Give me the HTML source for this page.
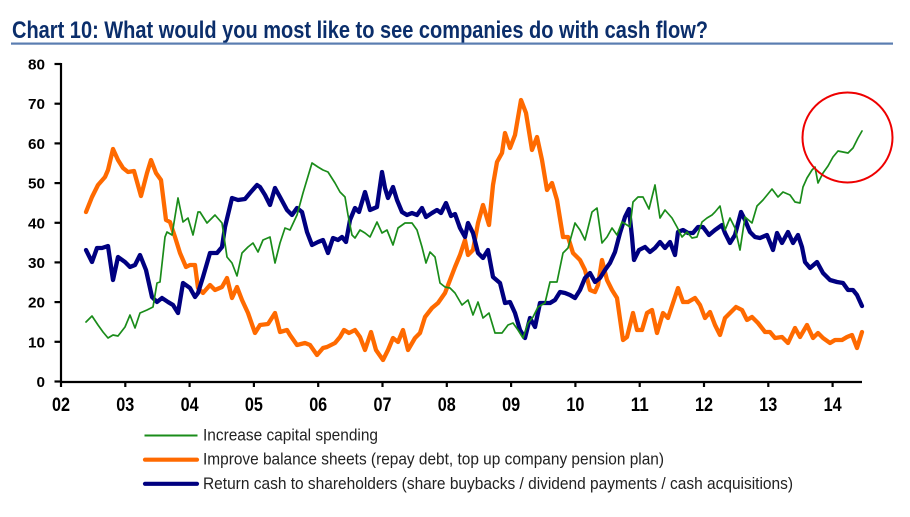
<!DOCTYPE html>
<html>
<head>
<meta charset="utf-8">
<style>
  html, body { margin:0; padding:0; background:#fff; }
  svg { display:block; }
  text { font-family: "Liberation Sans", Arial, sans-serif; }
</style>
</head>
<body>
<svg width="910" height="517" viewBox="0 0 910 517" xmlns="http://www.w3.org/2000/svg">
  <rect width="910" height="517" fill="#fff"/>
  <!-- Title -->
  <text x="12" y="38" font-size="24" font-weight="bold" fill="#0b2e6b" textLength="696" lengthAdjust="spacingAndGlyphs">Chart 10: What would you most like to see companies do with cash flow?</text>
  <rect x="11" y="42.5" width="882" height="2.2" fill="#5a7db1"/>

  <!-- Axes -->
  <g stroke="#000" stroke-width="2.2" fill="none">
    <line x1="61" y1="63" x2="61" y2="382.5"/>
    <line x1="60" y1="382" x2="862" y2="382"/>
    <line x1="54.5" y1="64" x2="61" y2="64"/>
    <line x1="54.5" y1="103.7" x2="61" y2="103.7"/>
    <line x1="54.5" y1="143.4" x2="61" y2="143.4"/>
    <line x1="54.5" y1="183.1" x2="61" y2="183.1"/>
    <line x1="54.5" y1="222.8" x2="61" y2="222.8"/>
    <line x1="54.5" y1="262.4" x2="61" y2="262.4"/>
    <line x1="54.5" y1="302.1" x2="61" y2="302.1"/>
    <line x1="54.5" y1="341.8" x2="61" y2="341.8"/>
    <line x1="54.5" y1="381.5" x2="61" y2="381.5"/>
    <line x1="61" y1="382" x2="61" y2="387"/>
    <line x1="125.3" y1="382" x2="125.3" y2="387"/>
    <line x1="189.6" y1="382" x2="189.6" y2="387"/>
    <line x1="253.9" y1="382" x2="253.9" y2="387"/>
    <line x1="318.2" y1="382" x2="318.2" y2="387"/>
    <line x1="382.5" y1="382" x2="382.5" y2="387"/>
    <line x1="446.8" y1="382" x2="446.8" y2="387"/>
    <line x1="511.1" y1="382" x2="511.1" y2="387"/>
    <line x1="575.4" y1="382" x2="575.4" y2="387"/>
    <line x1="639.7" y1="382" x2="639.7" y2="387"/>
    <line x1="704" y1="382" x2="704" y2="387"/>
    <line x1="768.3" y1="382" x2="768.3" y2="387"/>
    <line x1="832.6" y1="382" x2="832.6" y2="387"/>
  </g>

  <!-- Y labels -->
  <g font-size="15" font-weight="bold" fill="#000" text-anchor="end">
    <text x="45" y="69.5" textLength="17" lengthAdjust="spacingAndGlyphs">80</text>
    <text x="45" y="109.2" textLength="17" lengthAdjust="spacingAndGlyphs">70</text>
    <text x="45" y="148.9" textLength="17" lengthAdjust="spacingAndGlyphs">60</text>
    <text x="45" y="188.6" textLength="17" lengthAdjust="spacingAndGlyphs">50</text>
    <text x="45" y="228.3" textLength="17" lengthAdjust="spacingAndGlyphs">40</text>
    <text x="45" y="267.9" textLength="17" lengthAdjust="spacingAndGlyphs">30</text>
    <text x="45" y="307.6" textLength="17" lengthAdjust="spacingAndGlyphs">20</text>
    <text x="45" y="347.3" textLength="17" lengthAdjust="spacingAndGlyphs">10</text>
    <text x="45" y="387" textLength="8.5" lengthAdjust="spacingAndGlyphs">0</text>
  </g>

  <!-- X labels -->
  <g font-size="19" font-weight="bold" fill="#000" text-anchor="middle">
    <text x="61" y="411" textLength="18" lengthAdjust="spacingAndGlyphs">02</text>
    <text x="125.3" y="411" textLength="18" lengthAdjust="spacingAndGlyphs">03</text>
    <text x="189.6" y="411" textLength="18" lengthAdjust="spacingAndGlyphs">04</text>
    <text x="253.9" y="411" textLength="18" lengthAdjust="spacingAndGlyphs">05</text>
    <text x="318.2" y="411" textLength="18" lengthAdjust="spacingAndGlyphs">06</text>
    <text x="382.5" y="411" textLength="18" lengthAdjust="spacingAndGlyphs">07</text>
    <text x="446.8" y="411" textLength="18" lengthAdjust="spacingAndGlyphs">08</text>
    <text x="511.1" y="411" textLength="18" lengthAdjust="spacingAndGlyphs">09</text>
    <text x="575.4" y="411" textLength="18" lengthAdjust="spacingAndGlyphs">10</text>
    <text x="639.7" y="411" textLength="18" lengthAdjust="spacingAndGlyphs">11</text>
    <text x="704" y="411" textLength="18" lengthAdjust="spacingAndGlyphs">12</text>
    <text x="768.3" y="411" textLength="18" lengthAdjust="spacingAndGlyphs">13</text>
    <text x="832.6" y="411" textLength="18" lengthAdjust="spacingAndGlyphs">14</text>
  </g>

  <!-- Orange series -->
  <polyline fill="none" stroke="#ff6a00" stroke-width="4.3" stroke-linejoin="round" stroke-linecap="round"
    points="86,212 92,197 98,185 105,177 108,170 113,149 118,160 123,168 128,172 134,171 141,196 147,173 151,160 156,173 161,180 166,220 170,222 175,237 180,253 186,267 190,265 195,265 198,288 203,293 210,285 215,290 222,287 227,278 232,298 237,287 242,300 248,313 255,333 260,325 268,324 275,313 280,332 287,330 290,335 297,345 305,343 310,345 317,355 323,348 327,347 335,343 340,337 344,330 349,333 355,330 360,337 365,350 371,332 376,350 383,360 388,350 393,338 398,342 403,330 408,350 415,338 420,333 425,317 432,308 438,303 445,293 450,280 455,267 460,255 465,240 468,255 473,250 478,223 483,205 489,225 493,185 497,162 502,153 505,133 510,148 515,135 521,100 526,113 532,150 537,137 542,160 547,190 552,183 557,200 563,237 568,237 573,253 580,260 585,270 590,290 595,292 598,285 602,260 607,280 612,290 617,298 623,340 627,337 633,313 637,330 642,330 647,313 652,310 657,333 663,313 668,318 673,303 678,288 683,302 688,302 695,298 700,305 705,318 710,312 715,325 720,335 725,318 730,313 736,307 742,310 747,320 752,317 758,323 765,332 770,332 775,338 782,337 788,343 795,328 800,337 807,325 813,338 818,333 823,338 830,343 835,340 842,340 847,337 852,335 857,348 862,332"/>

  <!-- Blue series -->
  <polyline fill="none" stroke="#000080" stroke-width="4.3" stroke-linejoin="round" stroke-linecap="round"
    points="86,250 92,262 97,248 102,248 108,246 113,280 118,257 125,262 130,267 135,265 140,255 146,270 152,297 157,302 162,298 168,302 173,305 178,313 183,283 190,288 195,297 198,293 203,277 210,253 217,253 222,247 225,227 232,198 238,200 245,199 250,193 257,185 260,187 265,195 270,205 275,188 280,197 287,210 292,215 297,208 302,212 307,232 312,245 318,242 323,240 328,253 333,238 338,240 342,237 346,242 350,220 355,208 359,212 365,192 370,210 377,207 382,172 385,188 388,198 393,187 397,200 402,212 407,215 412,213 417,215 422,208 426,217 432,213 437,210 441,213 446,203 451,216 455,214 460,228 465,237 468,223 473,233 478,253 483,258 488,250 493,277 500,283 505,303 510,302 515,313 520,330 525,338 530,318 535,327 540,303 545,303 550,303 555,300 560,292 565,293 570,295 575,298 580,290 585,278 590,273 595,282 600,278 605,270 610,263 615,252 620,233 625,217 629,209 632,237 634,260 639,250 645,247 650,252 655,248 660,242 665,248 670,242 675,255 678,232 683,230 688,233 693,233 698,227 703,227 709,235 715,230 722,225 725,233 730,243 735,235 741,212 745,220 750,232 755,237 760,238 767,235 773,250 777,233 782,243 788,232 793,243 798,235 802,247 805,262 810,268 817,262 823,273 830,280 837,282 843,283 848,290 853,290 857,295 862,306"/>

  <!-- Green series -->
  <polyline fill="none" stroke="#1a8c1a" stroke-width="1.7" stroke-linejoin="round" stroke-linecap="round"
    points="86,322 92,316 98,325 103,332 108,338 113,335 118,336 125,327 130,315 135,328 140,313 147,310 153,307 157,283 160,282 165,237 167,232 172,235 178,198 183,222 188,218 193,235 198,212 200,212 207,223 215,215 222,223 227,257 232,263 237,276 242,253 248,247 253,243 258,252 263,240 270,237 275,263 280,243 285,228 290,230 297,215 303,193 312,163 318,167 323,170 328,172 335,183 340,192 345,197 348,215 352,235 355,238 360,230 365,233 370,237 377,222 382,233 387,230 393,245 398,228 405,223 412,223 417,230 422,247 426,263 430,252 435,257 440,283 445,287 450,288 455,293 462,305 468,300 473,315 478,302 483,318 489,313 495,333 502,333 508,325 513,323 518,330 523,338 528,323 533,317 538,307 545,303 550,282 557,282 563,253 568,248 575,223 580,230 585,240 592,212 597,208 602,243 607,237 612,228 617,235 622,222 627,225 630,227 633,202 638,197 643,197 649,209 655,185 660,218 665,210 672,218 677,227 682,237 687,232 692,238 697,237 702,222 707,218 712,215 715,212 720,206 725,230 730,218 735,228 740,250 745,217 752,223 757,206 763,200 772,189 778,197 783,192 790,195 795,202 800,203 803,187 807,178 812,170 815,167 818,183 823,173 828,166 833,157 838,151 843,152 848,153 853,148 858,138 862,131"/>

  <!-- Red circle -->
  <circle cx="847.5" cy="137.5" r="45" fill="none" stroke="#ee0000" stroke-width="2"/>

  <!-- Legend -->
  <line x1="144.5" y1="435.5" x2="197.5" y2="435.5" stroke="#1a8c1a" stroke-width="2"/>
  <line x1="145" y1="459.7" x2="197" y2="459.7" stroke="#ff6a00" stroke-width="4.2" stroke-linecap="round"/>
  <line x1="145" y1="483.8" x2="197" y2="483.8" stroke="#000080" stroke-width="4.2" stroke-linecap="round"/>
  <g font-size="17" fill="#222">
    <text x="203" y="440.5" textLength="175" lengthAdjust="spacingAndGlyphs">Increase capital spending</text>
    <text x="203" y="464.7" textLength="461" lengthAdjust="spacingAndGlyphs">Improve balance sheets (repay debt, top up company pension plan)</text>
    <text x="203" y="488.9" textLength="590" lengthAdjust="spacingAndGlyphs">Return cash to shareholders (share buybacks / dividend payments / cash acquisitions)</text>
  </g>
</svg>
</body>
</html>
